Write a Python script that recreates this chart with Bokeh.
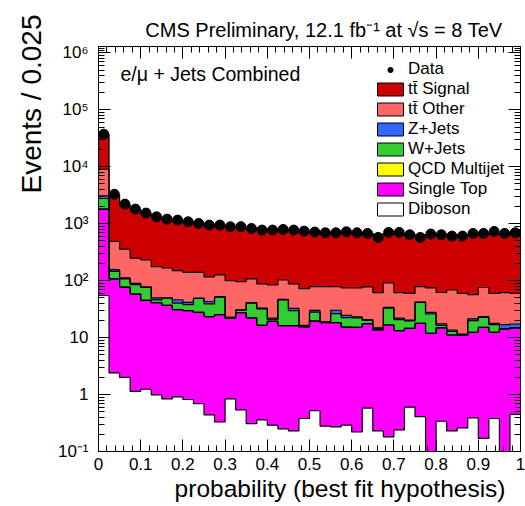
import numpy as np
from bokeh.plotting import figure
from bokeh.models import (Label, Legend, LegendItem, LinearAxis, LogAxis, FixedTicker, Title,
                          SingleIntervalTicker, CustomJSTickFormatter, Range1d, BoxAnnotation)
from bokeh.embed import file_html
from bokeh.resources import INLINE

# ---------------- data ----------------
bin_width = 0.025
n_bins = 40
edges = np.arange(n_bins + 1) * bin_width
centers = edges[:-1] + bin_width / 2

data_counts = [37500, 3300, 2215, 1810, 1540, 1326, 1207, 1160, 1084, 1012,
               948, 948, 886, 890, 828, 775, 775, 795, 775, 743,
               714, 695, 695, 724, 695, 676, 575, 704, 704, 641,
               575, 660, 641, 608, 608, 676, 676, 733, 676, 695]

diboson = [55, 2.4, 2.0, 1.14, 1.24, 0.99, 0.84, 0.91, 0.82, 0.69,
           0.44, 0.33, 0.84, 0.54, 0.31, 0.36, 0.29, 0.25, 0.23, 0.38,
           0.52, 0.28, 0.27, 0.29, 0.22, 0.58, 0.23, 0.18, 0.24, 0.6,
           0.41, 0.0, 0.34, 0.23, 0.26, 0.39, 0.17, 0.38, 0.0, 0.45]

single_top = [1755, 105, 75, 57, 44, 40, 36, 30, 29, 27,
              23, 25, 21, 27, 22, 16, 19, 16, 16, 15,
              19, 18, 18, 15, 15, 17, 13.4, 16.5, 13, 14,
              17.4, 11.9, 14.5, 10.9, 10.8, 12, 15, 12, 14.2, 14.3]

qcd = [0.0] * 40

wjets = [970, 39, 31, 27, 31, 5, 12.4, 9.4, 8.2, 21,
         15.7, 26, 0.5, 2.8, 18, 15.7, 1.4, 29.7, 13.5, 0.5,
         8.5, 0.4, 8.1, 7.1, 7.1, 2.6, 0.6, 16.3, 7.4, 5.1,
         23.7, 14.1, 1.5, 1.8, 0.2, 7.5, 7.5, 4.5, 0.2, 0.2]

zjets = [320, 10, 4, 5, 2, 4, 1, 6, 3.5, 1,
         4, 1, 0.5, 0.4, 1, 1, 1.3, 1, 2.9, 0.5,
         2, 0.3, 3.9, 2.3, 0.8, 0.6, 0.6, 1, 1.3, 0.6,
         0.5, 1.8, 1.1, 0.7, 0.3, 1.4, 0.8, 0.9, 2.5, 2.4]

tt_other = [5980, 334, 248, 160, 153, 126, 117, 104, 98.5, 90,
            74, 74, 77, 66, 66, 55, 62, 56, 55, 56,
            49, 60, 48, 50, 51.5, 57, 47, 58, 40, 39.5,
            37, 47, 44.6, 55, 48.5, 35.7, 52.5, 42, 45, 42.6]

tt_signal = [27900, 2660, 1790, 1530, 1270, 1124, 1023, 980, 930, 870,
             843, 804, 800, 783, 733, 712, 696, 677, 672, 668,
             641, 631, 621, 625, 615, 602, 598, 578, 598, 590,
             561, 565, 568, 561, 570, 583, 574, 600, 598, 610]

y_tick_values = [0.1, 1, 10, 100, 1000, 10000, 100000, 1000000]

# stack order: bottom -> top
stack = [
    ("Diboson", diboson, "#ffffff"),
    ("Single Top", single_top, "#ff00ff"),
    ("QCD Multijet", qcd, "#ffff00"),
    ("W+Jets", wjets, "#33cc33"),
    ("Z+Jets", zjets, "#3366ff"),
    ("tt\u0304 Other", tt_other, "#ff6666"),
    ("tt\u0304 Signal", tt_signal, "#cc0000"),
]

FONT = "Liberation Sans"

p = figure(width=525, height=506, output_backend="svg", toolbar_location=None,
           x_range=Range1d(0, 1), y_range=Range1d(0.1, 1.3e6), y_axis_type="log",
           min_border_left=98, min_border_right=5, min_border_top=46, min_border_bottom=55)
p.title.visible = False
p.xgrid.visible = False
p.ygrid.visible = False
p.background_fill_color = "white"
p.border_fill_color = "white"
p.outline_line_color = "black"
p.outline_line_width = 1

# pale strip along the left edge of the picture
p.add_layout(BoxAnnotation(left=-98, right=-91, bottom=-60, top=470,
                           left_units="screen", right_units="screen",
                           bottom_units="screen", top_units="screen",
                           fill_color="#fdf9ee", fill_alpha=1.0, line_alpha=0, level="underlay"))

floor = 1e-4
cum = np.zeros(n_bins)
tops = []
for name, vals, col in stack:
    top = cum + np.array(vals, dtype=float)
    y1 = np.append(np.maximum(cum, floor), max(cum[-1], floor))
    y2 = np.append(np.maximum(top, floor), max(top[-1], floor))
    p.varea_step(x=edges, y1=y1, y2=y2, step_mode="after", fill_color=col)
    tops.append(top)
    cum = top

for top in tops:
    xs = np.repeat(edges, 2)[1:-1]
    ys = np.repeat(np.maximum(top, floor), 2)
    p.line(xs, ys, line_color="black", line_width=1.2)

data_r = p.scatter(centers, data_counts, size=10, marker="circle", color="black")

# ---------------- legend ----------------
# frame-relative screen units: frame is 422 x 405 px
leg_left, leg_top_row, leg_step = 279, 382, 20   # first row centre 382 px above frame bottom
items = [LegendItem(label="Data", renderers=[data_r])]
for k, (name, vals, col) in enumerate(reversed(stack)):
    r = p.quad(left=[], right=[], bottom=[], top=[], fill_color=col, line_color="black")
    items.append(LegendItem(label=name, renderers=[r]))
    cy = leg_top_row - leg_step * (k + 1)
    p.add_layout(BoxAnnotation(left=leg_left, right=leg_left + 26, bottom=cy - 6.5, top=cy + 6.5,
                               left_units="screen", right_units="screen",
                               bottom_units="screen", top_units="screen",
                               fill_color=col, fill_alpha=1.0, line_color="black",
                               line_width=1, line_alpha=1.0, level="overlay"))
legend = Legend(items=items, location=(leg_left, leg_top_row - leg_step * 7 - 10),
                orientation="vertical",
                label_text_font=FONT, label_text_font_size="17px", label_text_color="black",
                glyph_width=26, glyph_height=13, label_height=20, spacing=0, padding=0, margin=0,
                label_standoff=5, border_line_alpha=0, background_fill_alpha=0)
p.add_layout(legend)

# ---------------- axes ----------------
y_minor = [m * 10.0 ** e for e in range(-1, 6) for m in range(2, 10)] + [1.1e6, 1.2e6]
yt = FixedTicker(ticks=y_tick_values, minor_ticks=y_minor)
xt = SingleIntervalTicker(interval=0.1, num_minor_ticks=5)

yfmt = CustomJSTickFormatter(code="""
const e = Math.round(Math.log10(tick));
if (e === 0) return "1";
if (e === 1) return "10";
const sup = {"-":"\u207b","0":"\u2070","1":"\u00b9","2":"\u00b2","3":"\u00b3","4":"\u2074","5":"\u2075","6":"\u2076","7":"\u2077","8":"\u2078","9":"\u2079"};
return "10" + String(e).split("").map(c => sup[c]).join("");
""")
xfmt = CustomJSTickFormatter(code="return String(Math.round(tick*10)/10);")
blank = CustomJSTickFormatter(code="return '';")

def style(ax):
    ax.major_tick_in = 12
    ax.major_tick_out = 0
    ax.minor_tick_in = 6
    ax.minor_tick_out = 0
    ax.axis_line_color = "black"
    ax.major_tick_line_color = "black"
    ax.minor_tick_line_color = "black"
    ax.major_label_text_font = FONT
    ax.major_label_text_color = "black"

yax = p.yaxis[0]
yax.ticker = yt
yax.formatter = yfmt
style(yax)
yax.major_label_text_font_size = "17px"
yax.major_label_standoff = 10

xax = p.xaxis[0]
xax.ticker = xt
xax.formatter = xfmt
style(xax)
xax.major_label_text_font_size = "17px"
xax.major_label_standoff = 6

top_ax = LinearAxis(ticker=xt, formatter=blank, major_label_standoff=0)
style(top_ax)
p.add_layout(top_ax, "above")
right_ax = LogAxis(ticker=yt, formatter=blank, major_label_standoff=0)
style(right_ax)
p.add_layout(right_ax, "right")

# ---------------- texts ----------------
p.add_layout(Title(text="CMS Preliminary, 12.1 fb\u207b\u00b9 at \u221as = 8 TeV",
                   align="right", offset=18, standoff=11, text_font=FONT,
                   text_font_size="20px", text_font_style="normal", text_color="black"), "above")
p.add_layout(Title(text="probability (best fit hypothesis)", align="right", offset=15,
                   standoff=1, text_font=FONT, text_font_size="24.5px",
                   text_font_style="normal", text_color="black"), "below")
p.add_layout(Title(text="Events / 0.025", align="right", offset=-32, standoff=16,
                   text_font=FONT, text_font_size="28px", text_font_style="normal",
                   text_color="black"), "left")
p.add_layout(Label(x=22, y=378, x_units="screen", y_units="screen",
                   text="e/\u03bc + Jets Combined", text_font=FONT, text_font_size="19.5px",
                   text_align="left", text_baseline="middle", text_color="black"))

open("out.html", "w").write(file_html(p, INLINE))
